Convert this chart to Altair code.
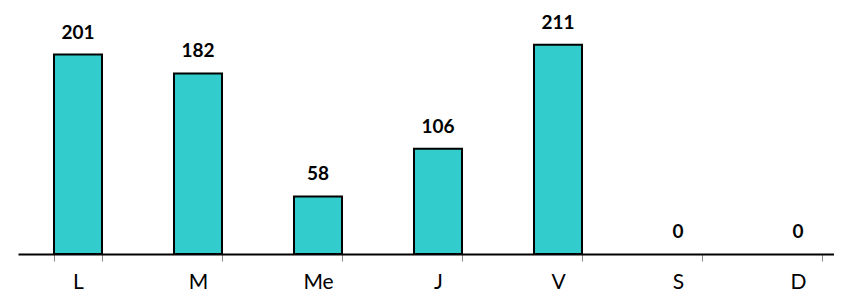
import altair as alt
import pandas as pd

days = ["L", "M", "Me", "J", "V", "S", "D"]
values = [201, 182, 58, 106, 211, 0, 0]

df = pd.DataFrame({"day": days, "value": values})

x = alt.X("day:N", sort=days, title=None,
          scale=alt.Scale(domain=days, range=[0, 840], paddingInner=0.6, paddingOuter=0.3),
          axis=alt.Axis(labelAngle=0, labelFont="Lato", labelFontSize=21,
                        labelColor="#000000", labelPadding=27, labelBaseline="alphabetic",
                        tickBand="extent", tickSize=7, tickColor="#888888",
                        tickWidth=1, domainColor="#000000", domainWidth=2))
y = alt.Y("value:Q", scale=alt.Scale(domain=[0, 248], nice=False), axis=None)

bars = alt.Chart(df).transform_filter("datum.value > 0").mark_bar(
    color="#33CCCC", stroke="#000000", strokeWidth=2).encode(x=x, y=y)
labels = alt.Chart(df).mark_text(font="Lato", fontSize=19, fontWeight="bold",
                                 baseline="alphabetic", dy=-16, color="#000000").encode(
    x=x, y=y, text="value:Q")

chart = (bars + labels).properties(
    width=816, height=246,
    padding={"left": 10, "top": 0, "right": 0, "bottom": 39},
    autosize=alt.AutoSizeParams(type="none"),
).configure_view(stroke=None)

chart.save("out.html", embed_options={"renderer": "svg", "actions": False})
